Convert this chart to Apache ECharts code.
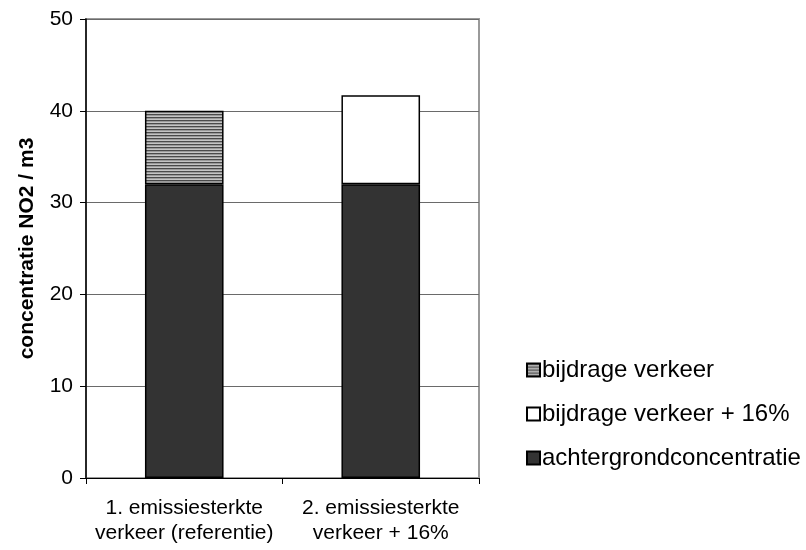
<!DOCTYPE html>
<html>
<head>
<meta charset="utf-8">
<script src="https://cdn.jsdelivr.net/npm/echarts@6/dist/echarts.min.js"></script>
<style>
  html, body { margin: 0; padding: 0; background: #fff; }
  #chart { width: 806px; height: 550px; }
</style>
</head>
<body>
<div id="chart"></div>
<script>
// Scenario categories on the x axis
const categories = ['1. emissiesterkte\nverkeer (referentie)', '2. emissiesterkte\nverkeer + 16%'];

// NO2 concentration contributions per scenario
const achtergrond = [32, 32];
const bijdrageVerkeer = [8, null];
const bijdrageVerkeer16 = [null, 9.7];

// y axis range
const yMin = 0, yMax = 50, yStep = 10;

// Horizontal hatch pattern for the traffic contribution
function stripePattern() {
  const c = document.createElement('canvas');
  c.width = 4; c.height = 3;
  const g = c.getContext('2d');
  g.fillStyle = '#4a4a4a'; g.fillRect(0, 0, 4, 1);
  g.fillStyle = '#9a9a9a'; g.fillRect(0, 1, 4, 1);
  g.fillStyle = '#c4c4c4'; g.fillRect(0, 2, 4, 1);
  return c;
}

const font = 'Liberation Sans, Arial, sans-serif';
const chart = echarts.init(document.getElementById('chart'), null, { renderer: 'canvas' });

const barBorder = { borderColor: '#000', borderWidth: 1.5 };

chart.setOption({
  animation: false,
  backgroundColor: '#fff',
  textStyle: { fontFamily: font, color: '#000' },
  grid: {
    left: 86, right: 327, top: 19, bottom: 72,
    show: true, borderColor: '#9a9a9a', borderWidth: 2, backgroundColor: 'transparent'
  },
  legend: {
    orient: 'vertical',
    left: 521, top: 353,
    itemWidth: 13, itemHeight: 13, itemGap: 20,
    icon: 'rect',
    textStyle: { fontFamily: font, fontSize: 24, color: '#000', padding: [0, 0, 0, -3] },
    data: ['bijdrage verkeer', 'bijdrage verkeer + 16%', 'achtergrondconcentratie']
  },
  xAxis: {
    type: 'category',
    data: categories,
    axisLine: { lineStyle: { color: '#000', width: 1 } },
    axisTick: { show: true, length: 6, lineStyle: { color: '#000' } },
    axisLabel: { interval: 0, fontFamily: font, fontSize: 21, color: '#000', lineHeight: 25, margin: 18 }
  },
  yAxis: {
    type: 'value',
    min: yMin, max: yMax, interval: yStep,
    name: 'concentratie NO2 / m3',
    nameLocation: 'middle',
    nameGap: 48,
    nameTextStyle: { fontFamily: font, fontSize: 21, fontWeight: 'bold', color: '#000' },
    axisLine: { show: true, lineStyle: { color: '#000', width: 1.5 } },
    axisTick: { show: true, length: 6, lineStyle: { color: '#000' } },
    axisLabel: { fontFamily: font, fontSize: 21, color: '#000', margin: 13 },
    splitLine: { show: true, lineStyle: { color: '#6a6a6a', width: 1 } }
  },
  series: [
    {
      name: 'achtergrondconcentratie', type: 'bar', stack: 'totaal',
      barWidth: '40%',
      data: achtergrond,
      itemStyle: Object.assign({ color: '#333333' }, barBorder)
    },
    {
      name: 'bijdrage verkeer', type: 'bar', stack: 'totaal',
      data: bijdrageVerkeer,
      itemStyle: Object.assign({ color: { image: stripePattern(), repeat: 'repeat' } }, barBorder)
    },
    {
      name: 'bijdrage verkeer + 16%', type: 'bar', stack: 'totaal',
      data: bijdrageVerkeer16,
      itemStyle: Object.assign({ color: '#ffffff' }, barBorder)
    }
  ]
});
</script>
</body>
</html>
